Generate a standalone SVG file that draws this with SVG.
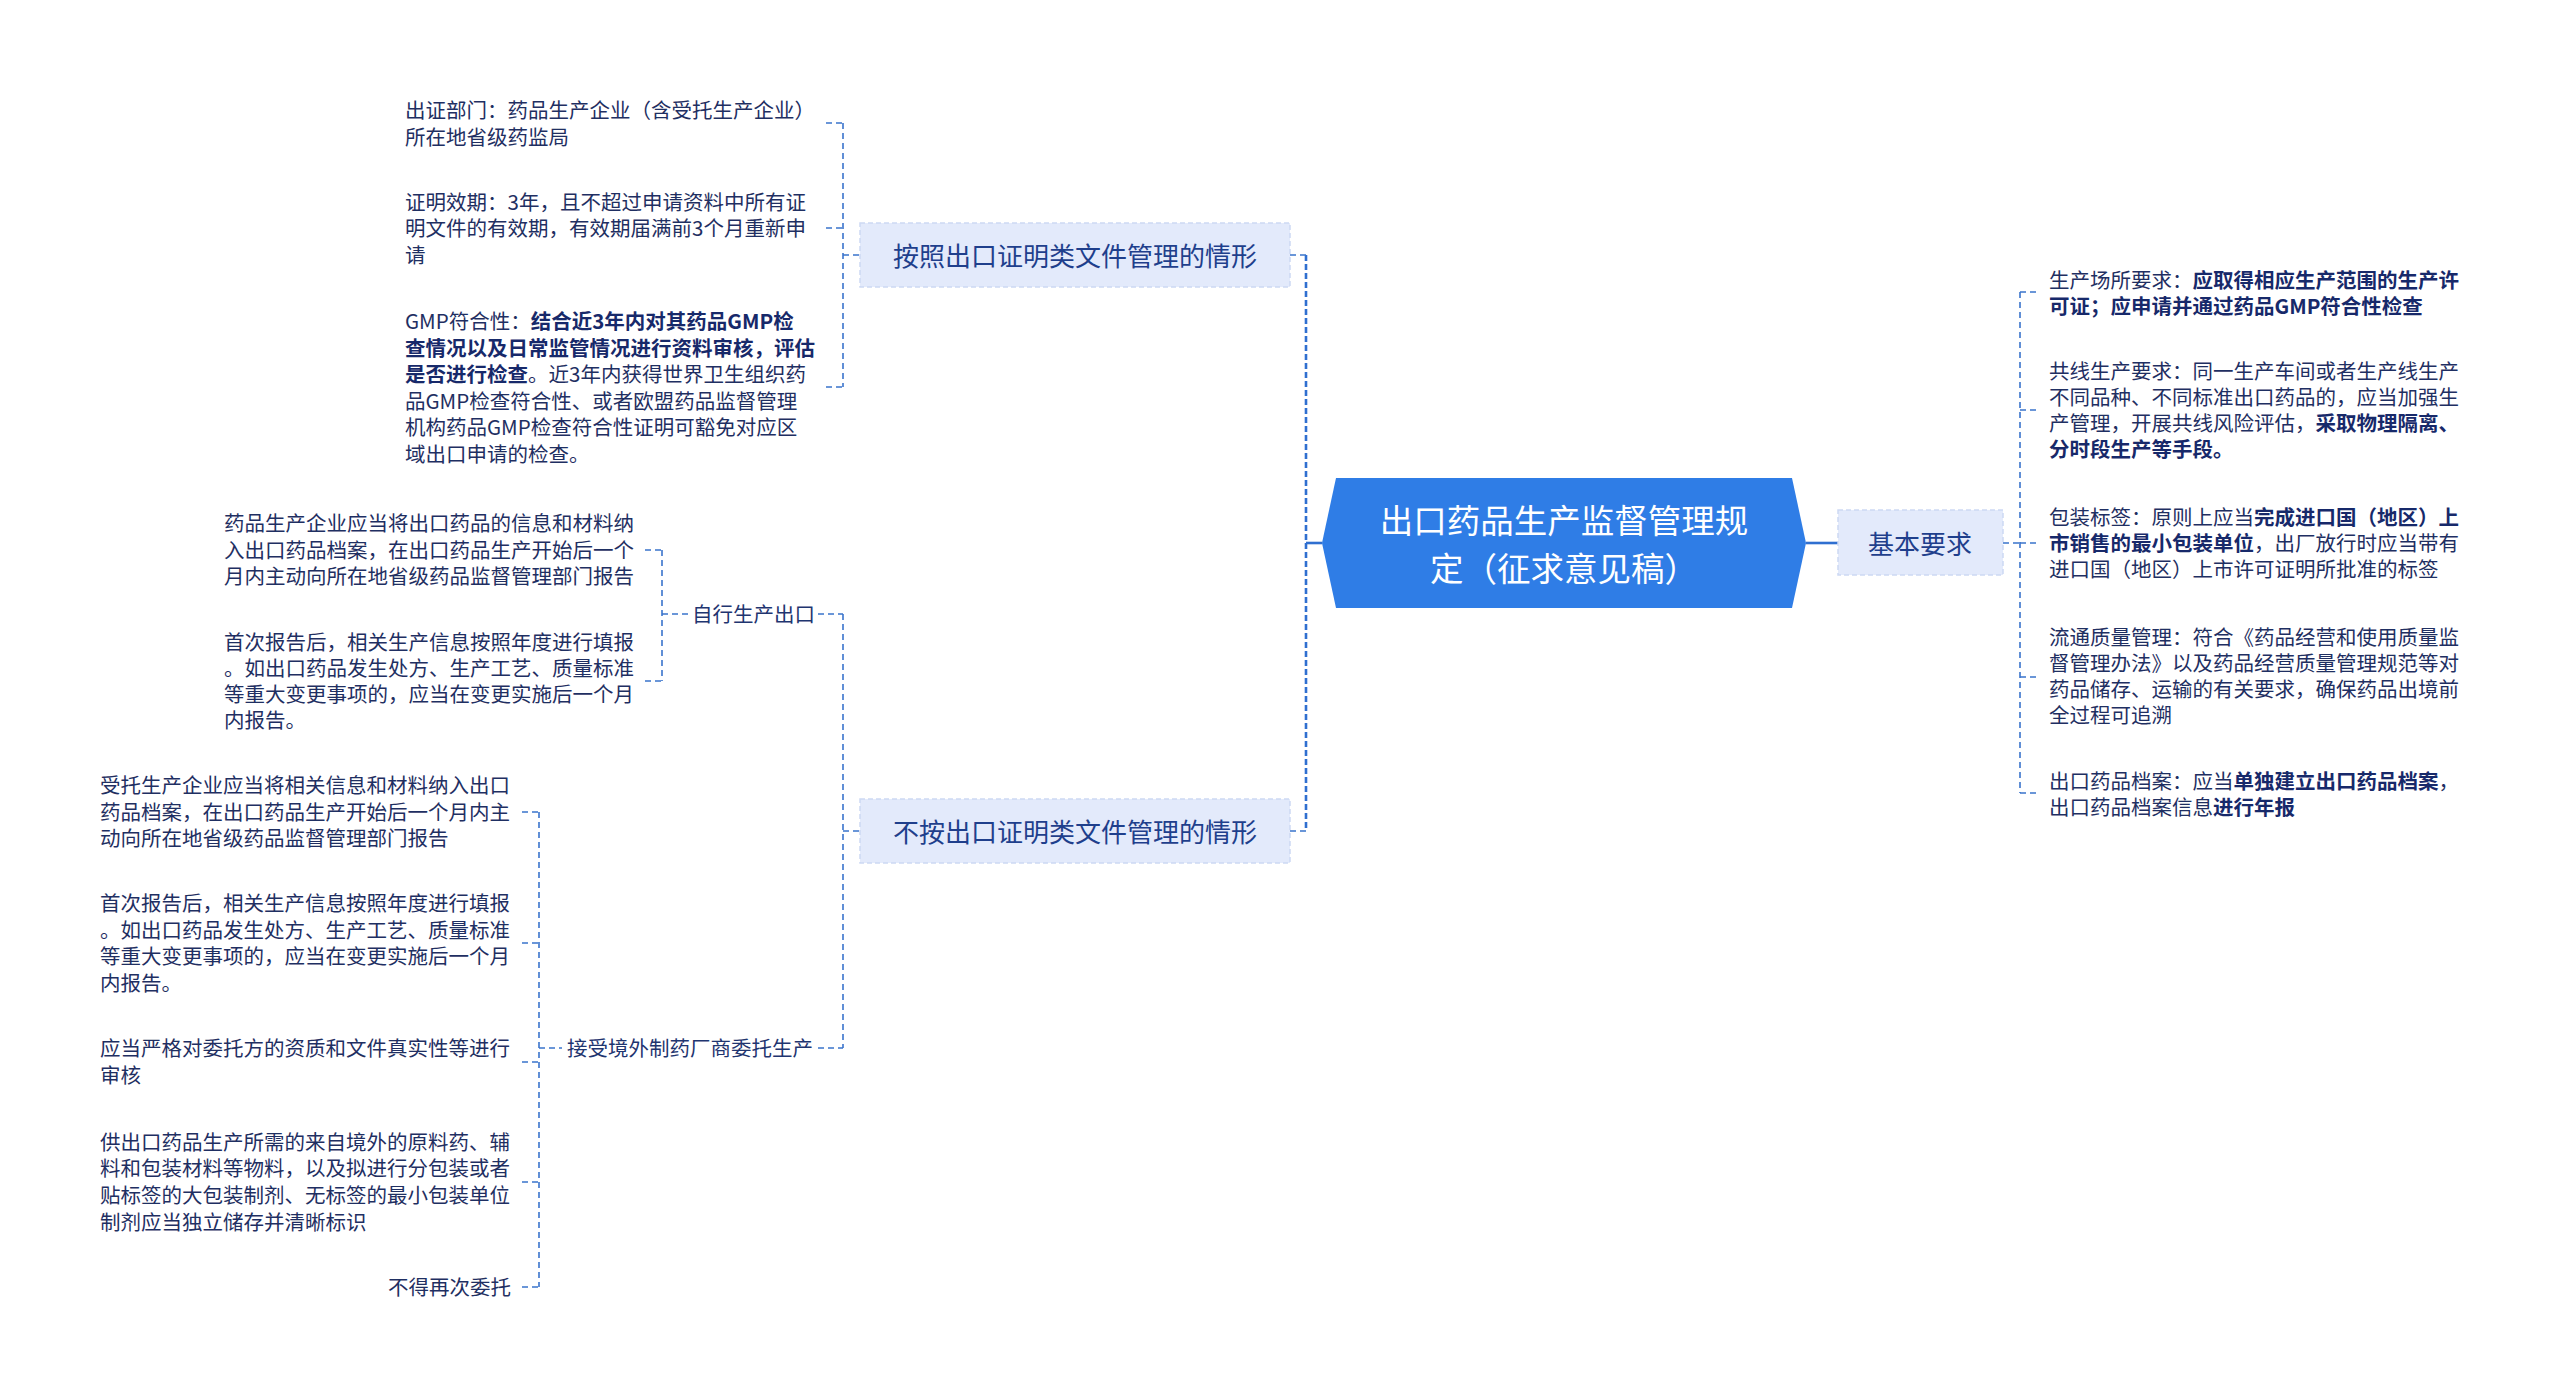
<svg xmlns="http://www.w3.org/2000/svg" width="2560" height="1397" viewBox="0 0 2560 1397">
<style>
text{font-family:"Noto Sans CJK SC","Noto Sans",sans-serif;dominant-baseline:central}
.leaf{font-size:20.5px;fill:#1f2f62}
.b{font-weight:bold;fill:#17296a}
.sub{font-size:20.5px;fill:#1f3570}
.box{fill:#e3eafb;stroke:#cdd9f4;stroke-width:1.5;stroke-dasharray:5,3}
.boxt{font-size:26px;fill:#1f3f8c}
.c{fill:none;stroke:#3a74cc;stroke-width:1.6;stroke-dasharray:6,4}
.cm{fill:none;stroke:#2f6fd0;stroke-width:2.6;stroke-dasharray:6,3}
.cs{fill:none;stroke:#2f6fd0;stroke-width:2.6}
</style>
<rect width="2560" height="1397" fill="#ffffff"/>
<g id="connectors">
<path class="cm" d="M1306,255 V831"/>
<path class="cs" d="M1306,543 H1322"/>
<path class="c" d="M1290,255 H1306 M1290,831 H1306"/>
<path class="cs" d="M1806,543 H1838"/>
<path class="c" d="M2003,543 H2020"/>
<path class="c" d="M2020,292 V793"/>
<path class="c" d="M2020,292 H2040 M2020,410 H2040 M2020,543 H2040 M2020,677 H2040 M2020,793 H2040"/>
<path class="c" d="M843,123 V387"/>
<path class="c" d="M826,123 H843 M826,228 H843 M826,387 H843 M843,255 H860"/>
<path class="c" d="M843,614 V1048"/>
<path class="c" d="M843,831 H860 M818,614 H843 M818,1048 H843"/>
<path class="c" d="M662,550 V681"/>
<path class="c" d="M645,550 H662 M645,681 H662 M662,614 H688"/>
<path class="c" d="M539,812 V1287"/>
<path class="c" d="M522,812 H539 M522,943 H539 M522,1062 H539 M522,1182 H539 M522,1287 H539 M539,1048 H562"/>
</g>
<g id="root">
<polygon points="1322,543 1336,478 1792,478 1806,543 1792,608 1336,608" fill="#2f7de6"/>
<text x="1564" y="518" font-size="33.5" fill="#ffffff" text-anchor="middle">出口药品生产监督管理规</text>
<text x="1564" y="566" font-size="33.5" fill="#ffffff" text-anchor="middle">定（征求意见稿）</text>
</g>
<g id="basic">
<rect class="box" x="1838" y="510" width="165" height="65"/>
<text class="boxt" x="1920" y="542" text-anchor="middle">基本要求</text>
</g>
<g id="r1">
<text class="leaf" x="2049" y="279">生产场所要求：<tspan class="b">应取得相应生产范围的生产许</tspan></text>
<text class="leaf b" x="2049" y="305">可证；应申请并通过药品GMP符合性检查</text>
</g>
<g id="r2">
<text class="leaf" x="2049" y="370">共线生产要求：同一生产车间或者生产线生产</text>
<text class="leaf" x="2049" y="396">不同品种、不同标准出口药品的，应当加强生</text>
<text class="leaf" x="2049" y="422">产管理，开展共线风险评估，<tspan class="b">采取物理隔离、</tspan></text>
<text class="leaf b" x="2049" y="448">分时段生产等手段。</text>
</g>
<g id="r3">
<text class="leaf" x="2049" y="516">包装标签：原则上应当<tspan class="b">完成进口国（地区）上</tspan></text>
<text class="leaf" x="2049" y="542"><tspan class="b">市销售的最小包装单位</tspan>，出厂放行时应当带有</text>
<text class="leaf" x="2049" y="568">进口国（地区）上市许可证明所批准的标签</text>
</g>
<g id="r4">
<text class="leaf" x="2049" y="636">流通质量管理：符合《药品经营和使用质量监</text>
<text class="leaf" x="2049" y="662">督管理办法》以及药品经营质量管理规范等对</text>
<text class="leaf" x="2049" y="688">药品储存、运输的有关要求，确保药品出境前</text>
<text class="leaf" x="2049" y="714">全过程可追溯</text>
</g>
<g id="r5">
<text class="leaf" x="2049" y="780">出口药品档案：应当<tspan class="b">单独建立出口药品档案</tspan>，</text>
<text class="leaf" x="2049" y="806">出口药品档案信息<tspan class="b">进行年报</tspan></text>
</g>
<g id="cert">
<rect class="box" x="860" y="223" width="430" height="64"/>
<text class="boxt" x="1075" y="254" text-anchor="middle">按照出口证明类文件管理的情形</text>
</g>
<g id="nocert">
<rect class="box" x="860" y="799" width="430" height="64"/>
<text class="boxt" x="1075" y="830" text-anchor="middle">不按出口证明类文件管理的情形</text>
</g>
<g id="l1">
<text class="leaf" x="405" y="109">出证部门：药品生产企业（含受托生产企业）</text>
<text class="leaf" x="405" y="136">所在地省级药监局</text>
</g>
<g id="l2">
<text class="leaf" x="405" y="201">证明效期：3年，且不超过申请资料中所有证</text>
<text class="leaf" x="405" y="227">明文件的有效期，有效期届满前3个月重新申</text>
<text class="leaf" x="405" y="254">请</text>
</g>
<g id="l3">
<text class="leaf" x="405" y="320">GMP符合性：<tspan class="b">结合近3年内对其药品GMP检</tspan></text>
<text class="leaf b" x="405" y="347">查情况以及日常监管情况进行资料审核，评估</text>
<text class="leaf" x="405" y="373"><tspan class="b">是否进行检查</tspan>。近3年内获得世界卫生组织药</text>
<text class="leaf" x="405" y="400">品GMP检查符合性、或者欧盟药品监督管理</text>
<text class="leaf" x="405" y="426">机构药品GMP检查符合性证明可豁免对应区</text>
<text class="leaf" x="405" y="453">域出口申请的检查。</text>
</g>
<g id="self">
<text class="sub" x="692" y="613">自行生产出口</text>
</g>
<g id="s1">
<text class="leaf" x="224" y="522">药品生产企业应当将出口药品的信息和材料纳</text>
<text class="leaf" x="224" y="549">入出口药品档案，在出口药品生产开始后一个</text>
<text class="leaf" x="224" y="575">月内主动向所在地省级药品监督管理部门报告</text>
</g>
<g id="s2">
<text class="leaf" x="224" y="641">首次报告后，相关生产信息按照年度进行填报</text>
<text class="leaf" x="224" y="667">。如出口药品发生处方、生产工艺、质量标准</text>
<text class="leaf" x="224" y="693">等重大变更事项的，应当在变更实施后一个月</text>
<text class="leaf" x="224" y="719">内报告。</text>
</g>
<g id="entrust">
<text class="sub" x="567" y="1047">接受境外制药厂商委托生产</text>
</g>
<g id="e1">
<text class="leaf" x="100" y="784">受托生产企业应当将相关信息和材料纳入出口</text>
<text class="leaf" x="100" y="811">药品档案，在出口药品生产开始后一个月内主</text>
<text class="leaf" x="100" y="837">动向所在地省级药品监督管理部门报告</text>
</g>
<g id="e2">
<text class="leaf" x="100" y="902">首次报告后，相关生产信息按照年度进行填报</text>
<text class="leaf" x="100" y="929">。如出口药品发生处方、生产工艺、质量标准</text>
<text class="leaf" x="100" y="955">等重大变更事项的，应当在变更实施后一个月</text>
<text class="leaf" x="100" y="982">内报告。</text>
</g>
<g id="e3">
<text class="leaf" x="100" y="1047">应当严格对委托方的资质和文件真实性等进行</text>
<text class="leaf" x="100" y="1074">审核</text>
</g>
<g id="e4">
<text class="leaf" x="100" y="1141">供出口药品生产所需的来自境外的原料药、辅</text>
<text class="leaf" x="100" y="1167">料和包装材料等物料，以及拟进行分包装或者</text>
<text class="leaf" x="100" y="1194">贴标签的大包装制剂、无标签的最小包装单位</text>
<text class="leaf" x="100" y="1221">制剂应当独立储存并清晰标识</text>
</g>
<g id="e5">
<text class="leaf" x="511" y="1286" text-anchor="end">不得再次委托</text>
</g>
</svg>
